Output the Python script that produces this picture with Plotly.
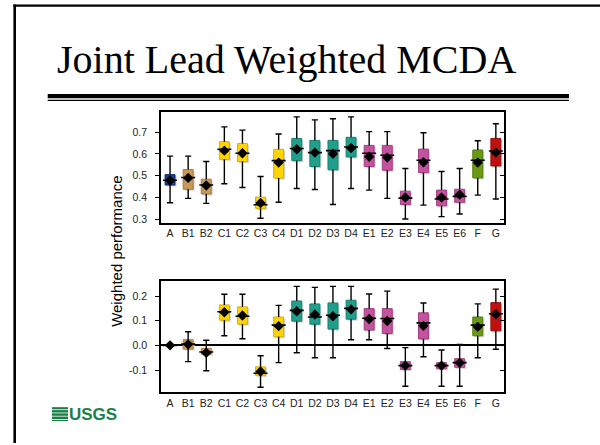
import plotly.graph_objects as go

# ---------------- data ----------------
categories = ["A", "B1", "B2", "C1", "C2", "C3", "C4", "D1", "D2", "D3", "D4",
              "E1", "E2", "E3", "E4", "E5", "E6", "F", "G"]
box_colors = ["#1f3d8c", "#c89858", "#c89858", "#ffd400", "#ffd400", "#ffd400", "#ffd400",
              "#1fa08c", "#1fa08c", "#1fa08c", "#1fa08c",
              "#c4529e", "#c4529e", "#c4529e", "#c4529e", "#c4529e", "#c4529e",
              "#6b9a12", "#c01010"]
edge_colors = ["#16306e", "#a87a40", "#a87a40", "#d8b000", "#d8b000", "#d8b000", "#d8b000",
               "#17806f", "#17806f", "#17806f", "#17806f",
               "#a03f80", "#a03f80", "#a03f80", "#a03f80", "#a03f80", "#a03f80",
               "#567c0c", "#9a0a0a"]

# top panel: weighted performance
top_low = [0.376, 0.396, 0.373, 0.463, 0.446, 0.305, 0.378, 0.441, 0.437, 0.368, 0.441,
           0.434, 0.396, 0.301, 0.365, 0.312, 0.324, 0.411, 0.393]
top_q1 = [0.457, 0.438, 0.416, 0.575, 0.565, 0.350, 0.489, 0.569, 0.542, 0.527, 0.586,
          0.542, 0.525, 0.368, 0.514, 0.362, 0.378, 0.490, 0.545]
top_med = [0.479, 0.492, 0.457, 0.621, 0.603, 0.367, 0.569, 0.625, 0.606, 0.615, 0.632,
           0.603, 0.594, 0.397, 0.571, 0.393, 0.405, 0.571, 0.613]
top_q3 = [0.505, 0.528, 0.484, 0.656, 0.648, 0.402, 0.621, 0.671, 0.662, 0.662, 0.676,
          0.639, 0.639, 0.429, 0.622, 0.434, 0.438, 0.618, 0.671]
top_high = [0.590, 0.590, 0.565, 0.724, 0.709, 0.496, 0.691, 0.770, 0.756, 0.761, 0.770,
            0.702, 0.702, 0.533, 0.697, 0.519, 0.533, 0.660, 0.738]
top_mean = [0.478, 0.490, 0.455, 0.615, 0.603, 0.375, 0.560, 0.621, 0.606, 0.601, 0.627,
            0.587, 0.583, 0.400, 0.562, 0.400, 0.413, 0.560, 0.606]

# bottom panel: difference relative to A
bot_low = [0.0, -0.066, -0.103, 0.039, 0.027, -0.170, -0.070, -0.030, -0.050, -0.050, 0.023,
           0.023, -0.013, -0.166, -0.046, -0.166, -0.166, -0.050, -0.016]
bot_q1 = [0.0, -0.015, -0.036, 0.102, 0.086, -0.122, 0.035, 0.098, 0.086, 0.066, 0.106,
          0.062, 0.048, -0.098, 0.026, -0.095, -0.089, 0.039, 0.059]
bot_med = [0.0, 0.005, -0.027, 0.136, 0.118, -0.113, 0.082, 0.142, 0.115, 0.122, 0.150,
           0.110, 0.109, -0.082, 0.091, -0.082, -0.070, 0.082, 0.128]
bot_q3 = [0.0, 0.023, -0.012, 0.164, 0.156, -0.087, 0.115, 0.180, 0.168, 0.172, 0.183,
          0.149, 0.149, -0.066, 0.132, -0.070, -0.054, 0.115, 0.173]
bot_high = [0.0, 0.055, 0.021, 0.207, 0.207, -0.042, 0.162, 0.239, 0.235, 0.239, 0.239,
            0.208, 0.220, -0.009, 0.172, -0.019, 0.004, 0.168, 0.228]
bot_mean = [0.0, 0.004, -0.030, 0.134, 0.121, -0.106, 0.078, 0.138, 0.125, 0.118, 0.146,
            0.107, 0.099, -0.082, 0.079, -0.082, -0.071, 0.075, 0.126]

top_ticks = [0.3, 0.4, 0.5, 0.6, 0.7]
bot_ticks = [-0.1, 0.0, 0.1, 0.2]
bot_ticktext = ["-0.1", "0.0", "0.1", "0.2"]

title_text = "Joint Lead Weighted MCDA"
ytitle_text = "Weighted performance"

# ---------------- figure ----------------
W, H = 600, 445
def px(x):
    return x / W
def py(y):
    return 1 - y / H

xs = list(range(len(categories)))
CAP = 0.17
BOXW = 0.55
X_RANGE = [-0.5, 18.45]
top_range = [0.283, 0.79]
bot_range = [-0.19, 0.262]
PLOT_W = 504 - 161
TOP_H = 224 - 113
BOT_H = 394 - 282

def whiskers(lo, q1, q3, hi):
    wx, wy = [], []
    for i in xs:
        wx += [i, i, None, i, i, None, i - CAP, i + CAP, None, i - CAP, i + CAP, None]
        wy += [q3[i], hi[i], None, q1[i], lo[i], None, hi[i], hi[i], None, lo[i], lo[i], None]
    return wx, wy

fig = go.Figure()

def add_panel(lo, q1, med, q3, hi, mean, xa, ya, yrange, hpx):
    # 1.5 px drop shadow behind each box, converted to data units
    dx = 1.5 * (X_RANGE[1] - X_RANGE[0]) / PLOT_W
    dy = 1.5 * (yrange[1] - yrange[0]) / hpx
    heights = [b - a for a, b in zip(q1, q3)]
    wx, wy = whiskers(lo, q1, q3, hi)
    fig.add_trace(go.Scatter(x=wx, y=wy, mode="lines", line=dict(color="black", width=1.4),
                             xaxis=xa, yaxis=ya, hoverinfo="skip", showlegend=False))
    fig.add_trace(go.Bar(x=[v + dx for v in xs], y=heights, base=[v - dy for v in q1], width=BOXW,
                         marker=dict(color="#d4d4d4", line=dict(width=0)),
                         xaxis=xa, yaxis=ya, showlegend=False, hoverinfo="skip"))
    fig.add_trace(go.Bar(x=xs, y=heights, base=q1, width=BOXW,
                         marker=dict(color=box_colors, line=dict(color=edge_colors, width=1)),
                         xaxis=xa, yaxis=ya, showlegend=False))
    fig.add_trace(go.Scatter(x=xs, y=med, mode="markers",
                             marker=dict(symbol="line-ew", size=10, line=dict(color="black", width=1.6)),
                             xaxis=xa, yaxis=ya, showlegend=False))
    fig.add_trace(go.Scatter(x=xs, y=mean, mode="markers",
                             marker=dict(symbol="diamond", size=8, color="black"),
                             xaxis=xa, yaxis=ya, showlegend=False))

add_panel(top_low, top_q1, top_med, top_q3, top_high, top_mean, "x", "y", top_range, TOP_H)
add_panel(bot_low, bot_q1, bot_med, bot_q3, bot_high, bot_mean, "x2", "y2", bot_range, BOT_H)

axfont = dict(family="Liberation Sans, Arial, sans-serif", size=10.5, color="#222222")
xcommon = dict(range=X_RANGE, tickmode="array", tickvals=xs, ticktext=categories,
               showline=True, linecolor="black", linewidth=1.5, mirror=True, ticks="",
               showgrid=False, zeroline=False, tickfont=axfont, fixedrange=True)
ycommon = dict(showline=True, linecolor="black", linewidth=1.5, mirror=True, ticks="outside",
               ticklen=4, tickcolor="black", tickwidth=1.2, showgrid=False,
               tickfont=axfont, fixedrange=True, ticklabelstandoff=6)

dom_x = [px(161), px(504)]
fig.update_layout(
    width=W, height=H, margin=dict(l=0, r=0, t=0, b=0),
    paper_bgcolor="white", plot_bgcolor="white", showlegend=False, barmode="overlay",
    xaxis=dict(domain=dom_x, anchor="y", **xcommon),
    yaxis=dict(domain=[py(224), py(113)], anchor="x", range=top_range, tickmode="array",
               tickvals=top_ticks, zeroline=False, **ycommon),
    xaxis2=dict(domain=dom_x, anchor="y2", **xcommon),
    yaxis2=dict(domain=[py(394), py(282)], anchor="x2", range=bot_range, tickmode="array",
                tickvals=bot_ticks, ticktext=bot_ticktext, zeroline=True, zerolinecolor="black",
                zerolinewidth=1.5, **ycommon),
    yaxis3=dict(overlaying="y", side="right", anchor="x", range=top_range, tickmode="array",
                tickvals=top_ticks, ticks="inside", ticklen=4, tickcolor="black",
                showticklabels=False, showgrid=False, zeroline=False, showline=False,
                fixedrange=True),
    yaxis4=dict(overlaying="y2", side="right", anchor="x2", range=bot_range, tickmode="array",
                tickvals=bot_ticks, ticks="inside", ticklen=4, tickcolor="black",
                showticklabels=False, showgrid=False, zeroline=False, showline=False,
                fixedrange=True),
)
# dummy traces to show right-hand tick axes
fig.add_trace(go.Scatter(x=[None], y=[None], xaxis="x", yaxis="y3", showlegend=False))
fig.add_trace(go.Scatter(x=[None], y=[None], xaxis="x2", yaxis="y4", showlegend=False))

shapes = [
    # slide frame
    dict(type="line", xref="paper", yref="paper", x0=px(14.7), x1=px(14.7), y0=py(4.6), y1=py(445),
         line=dict(color="black", width=2.6)),
    dict(type="line", xref="paper", yref="paper", x0=px(13.4), x1=px(600), y0=py(5.7), y1=py(5.7),
         line=dict(color="black", width=2.3)),
    # double rule under title
    dict(type="rect", xref="paper", yref="paper", x0=px(47.7), x1=px(569), y0=py(98.8), y1=py(94.3),
         fillcolor="black", line=dict(width=0)),
    dict(type="rect", xref="paper", yref="paper", x0=px(47.7), x1=px(569), y0=py(101.5), y1=py(100.1),
         fillcolor="black", line=dict(width=0)),
    # USGS logo mark
    dict(type="rect", xref="paper", yref="paper", x0=px(52), x1=px(68), y0=py(423), y1=py(409),
         fillcolor="#1b7f45", line=dict(width=0)),
]
for k in range(4):
    yy = 411.5 + k * 3.3
    shapes.append(dict(type="line", xref="paper", yref="paper", x0=px(52), x1=px(68),
                       y0=py(yy), y1=py(yy), line=dict(color="white", width=0.8)))
fig.update_layout(shapes=shapes)

fig.add_annotation(text=title_text, xref="paper", yref="paper", x=px(55), y=py(59.5),
                   xanchor="left", yanchor="middle", showarrow=False,
                   font=dict(family="Liberation Serif, Times New Roman, serif", size=40, color="black"))
fig.add_annotation(text=ytitle_text, xref="paper", yref="paper", x=px(117), y=py(253),
                   xanchor="center", yanchor="middle", textangle=-90, showarrow=False,
                   font=dict(family="Liberation Sans, Arial, sans-serif", size=15, color="black"))
fig.add_annotation(text="<b>USGS</b>", xref="paper", yref="paper", x=px(67), y=py(416),
                   xanchor="left", yanchor="middle", showarrow=False,
                   font=dict(family="Liberation Sans Narrow, Arial Narrow, Liberation Sans, sans-serif",
                             size=17, color="#1b7f45"))

page_js = (
    "var st=document.createElement('style');"
    "st.textContent='html,body{margin:0;padding:0;overflow:hidden;width:600px;height:445px;}"
    "::-webkit-scrollbar{display:none;width:0;height:0;}';"
    "document.head.appendChild(st);"
)
fig.write_html("out.html", config={"displayModeBar": False}, post_script=page_js)
